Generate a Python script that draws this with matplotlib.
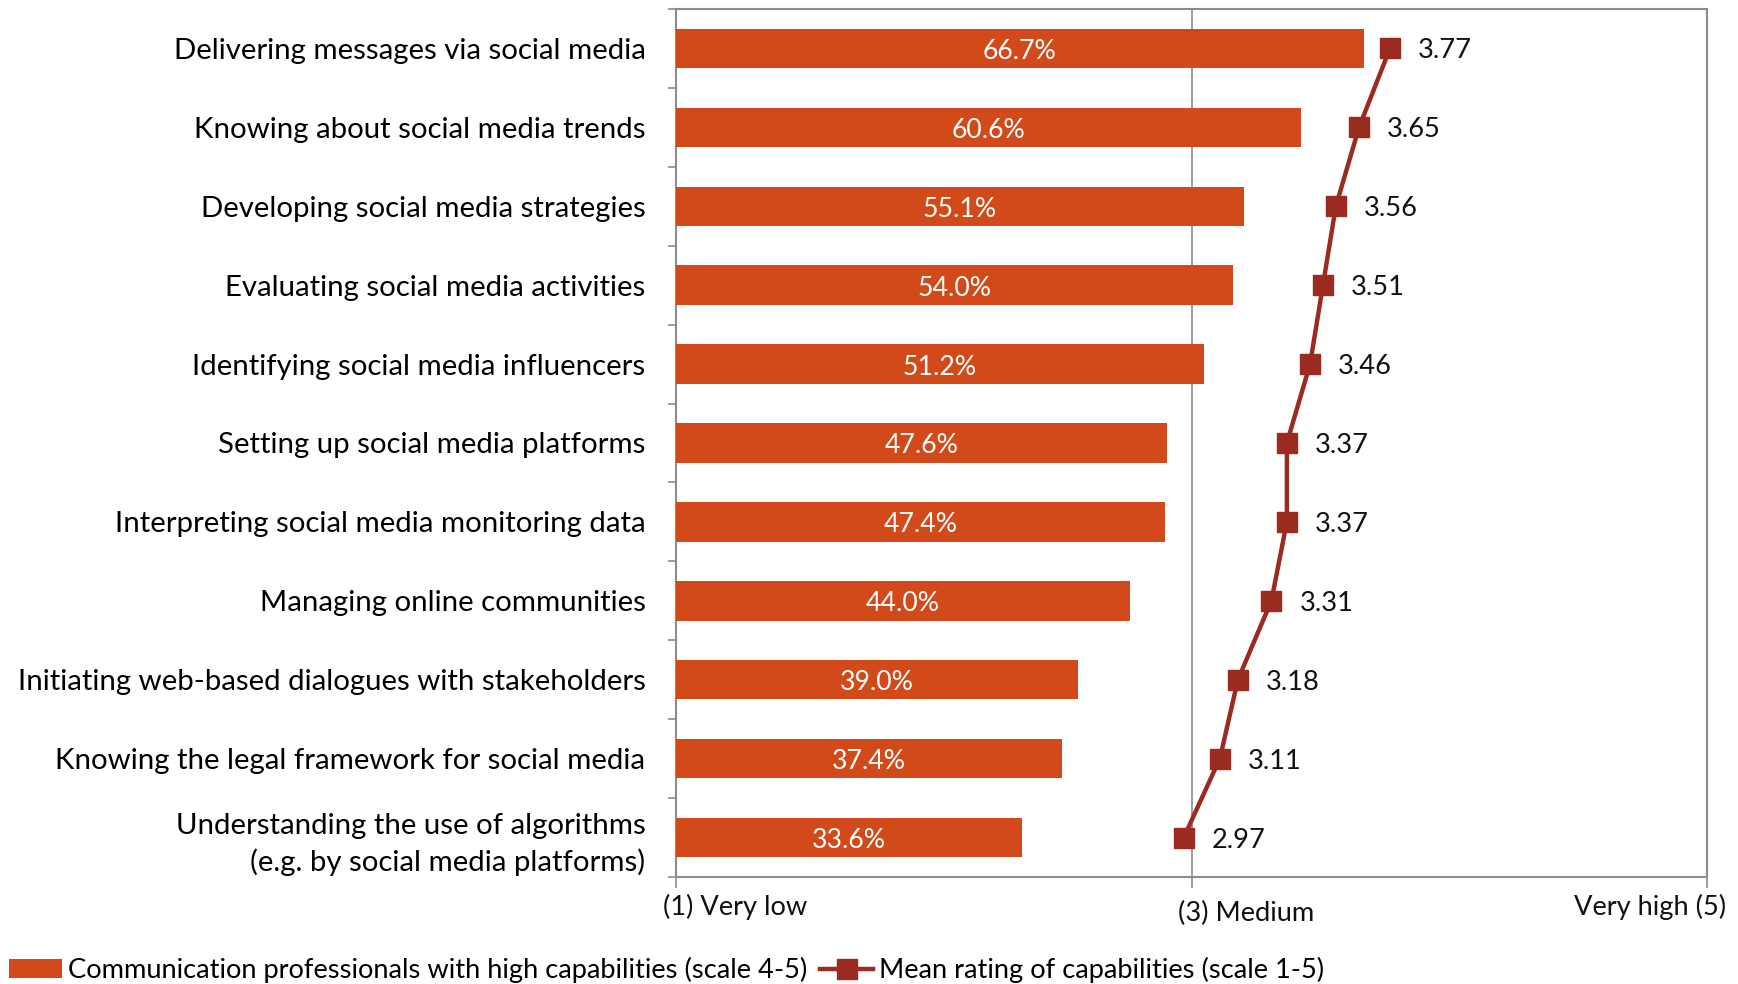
import matplotlib
matplotlib.use("Agg")
import matplotlib.pyplot as plt
from matplotlib.patches import Patch
from matplotlib.lines import Line2D

plt.rcParams['font.family'] = ['Lato', 'DejaVu Sans']

categories = [
    "Delivering messages via social media",
    "Knowing about social media trends",
    "Developing social media strategies",
    "Evaluating social media activities",
    "Identifying social media influencers",
    "Setting up social media platforms",
    "Interpreting social media monitoring data",
    "Managing online communities",
    "Initiating web-based dialogues with stakeholders",
    "Knowing the legal framework for social media",
    "Understanding the use of algorithms\n(e.g. by social media platforms)",
]
high_share = [66.7, 60.6, 55.1, 54.0, 51.2, 47.6, 47.4, 44.0, 39.0, 37.4, 33.6]
mean_rating = [3.77, 3.65, 3.56, 3.51, 3.46, 3.37, 3.37, 3.31, 3.18, 3.11, 2.97]
scale_labels = ["(1) Very low", "(3) Medium", "Very high (5)"]
legend_labels = ["Communication professionals with high capabilities (scale 4-5)",
                 "Mean rating of capabilities (scale 1-5)"]

BAR = '#D34A1A'
LINE = '#9B2B21'
GREY = '#8C8C8C'
FS_CAT = 21.2
FS = 19.6

W, H = 1738, 984
fig = plt.figure(figsize=(W / 100, H / 100), dpi=100)
ax = fig.add_axes([676 / W, 1 - 877 / H, (1707 - 676) / W, (877 - 9) / H])

pos = list(range(len(categories)))
ax.barh(pos, high_share, height=0.5, color=BAR, zorder=3)
for y, v in zip(pos, high_share):
    ax.annotate(f"{v:.1f}%", xy=(v / 2, y), xytext=(0, -3),
                textcoords='offset pixels', ha='center', va='center',
                color='white', fontsize=19.2, zorder=4)

ax.set_xlim(0, 100)
ax.set_ylim(len(categories) - 0.5, -0.5)

# category boundaries carry the tick marks, labels sit on the centres
ax.set_yticks([i - 0.5 for i in range(len(categories) + 1)])
ax.set_yticklabels([])
ax.set_yticks(pos, minor=True)
ax.set_yticklabels(categories, minor=True, fontsize=FS_CAT, ha='right',
                   linespacing=1.42)
ax.tick_params(axis='y', which='major', length=6, width=1.2, color=GREY,
               direction='out')
ax.tick_params(axis='y', which='minor', length=0, pad=22)

ax.set_xticks([0, 50, 100])
ax.set_xticklabels([])
ax.tick_params(axis='x', length=8, width=1.2, color=GREY, direction='out')
ax.xaxis.grid(True, color=GREY, linewidth=1.2)
ax.set_axisbelow(True)
for s in ax.spines.values():
    s.set_color(GREY)
    s.set_linewidth(1.5)

offsets = [(-13, -30, 'left'), (-14, -36, 'left'), (19, -30, 'right')]
for x, lab, (dx, dy, ha) in zip([0, 50, 100], scale_labels, offsets):
    ax.annotate(lab, xy=(x, 0), xycoords=('data', 'axes fraction'),
                xytext=(dx, dy), textcoords='offset pixels',
                ha=ha, va='center', fontsize=FS, color='#111111')

# mean rating on the 1-5 scale
ax2 = ax.twiny()
ax2.set_xlim(1, 5)
ax2.plot(mean_rating, pos, color=LINE, linewidth=3.2, marker='s',
         markersize=14, zorder=5)
for y, v in zip(pos, mean_rating):
    ax2.annotate(f"{v:.2f}", xy=(v, y), xytext=(28, -2.5),
                 textcoords='offset pixels', ha='left', va='center',
                 fontsize=FS, color='#111111')
ax2.set_xticks([])
for s in ax2.spines.values():
    s.set_visible(False)

handles = [Patch(facecolor=BAR, edgecolor='none'),
           Line2D([0], [0], color=LINE, linewidth=3.2, marker='s', markersize=14)]
fig.legend(handles, legend_labels, loc='center left',
           bbox_to_anchor=(9 / W, 1 - 970 / H), ncol=2, frameon=False,
           fontsize=FS, handlelength=1.95, handleheight=0.7,
           handletextpad=0.2, columnspacing=0.5, borderpad=0,
           borderaxespad=0)

fig.savefig('out.png', dpi=100)
